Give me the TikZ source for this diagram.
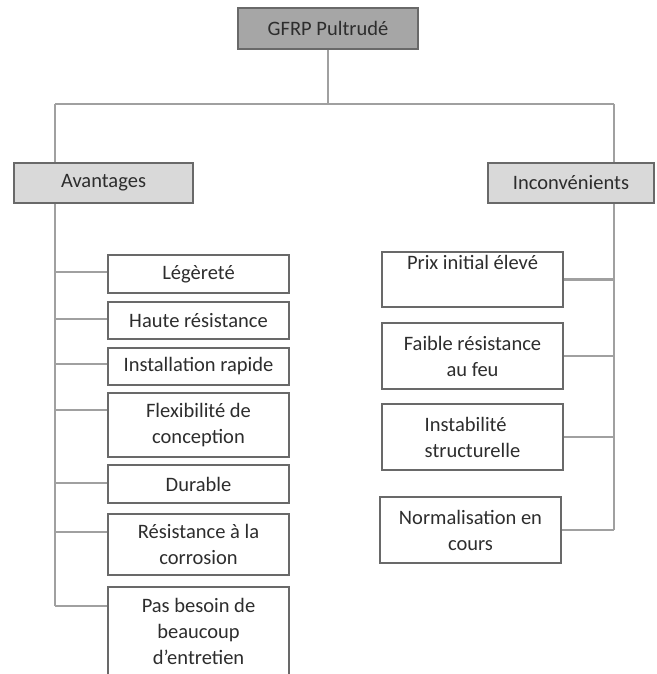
\documentclass[tikz,border=0pt]{standalone}
\usepackage{fontspec}
\setmainfont{Carlito}
\usetikzlibrary{positioning}
\definecolor{rootgray}{RGB}{166,166,166}
\definecolor{headgray}{RGB}{217,217,217}
\definecolor{edgegray}{RGB}{105,105,105}
\definecolor{linegray}{RGB}{160,160,160}
\definecolor{textgray}{RGB}{45,45,45}

\begin{document}
\begin{tikzpicture}[x=1pt, y=-1pt,
    box/.style={draw=edgegray, line width=1.7pt, fill=white, text=textgray, align=center,
        inner sep=0pt, minimum width=181pt, font=\fontsize{20.5}{26}\selectfont},
    link/.style={draw=linegray, line width=2.4pt}]
    \useasboundingbox (0,0) rectangle (656,674);

    % top level
    \node[box, fill=rootgray, minimum width=180pt, minimum height=41pt] (root) at (328,28.5) {GFRP Pultrudé};
    \node[box, fill=headgray, minimum width=179pt, minimum height=40pt] (av) at (103.5,183) {Avantages};
    \node[box, fill=headgray, minimum width=166pt, minimum height=40pt] (inc) at (571,183) {Inconvénients};
    \coordinate (lx) at (55,104);
    \coordinate (rx) at (614,104);

    % advantages
    \node[box, minimum height=38pt] (a1) at (198.5,274) {Légèreté};
    \node[box, minimum height=37pt] (a2) at (198.5,320.5) {Haute résistance};
    \node[box, minimum height=37pt] (a3) at (198.5,366.5) {Installation rapide};
    \node[box, minimum height=64pt] (a4) at (198.5,425) {Flexibilité de\\conception};
    \node[box, minimum height=38pt] (a5) at (198.5,484) {Durable};
    \node[box, minimum height=61pt] (a6) at (198.5,544.5) {Résistance à la\\corrosion};
    \node[box, minimum height=89pt] (a7) at (198.5,631.5) {Pas besoin de\\beaucoup\\d’entretien};

    % drawbacks
    \node[box, minimum height=55pt] (b1) at (472.5,279.5) {Prix initial élevé\\\strut};
    \node[box, minimum height=66pt] (b2) at (472.5,356) {Faible résistance\\au feu};
    \node[box, minimum height=66pt, align=left] (b3) at (472.5,437) {Instabilité\\structurelle};
    \node[box, minimum height=66pt] (b4) at (470.5,530) {Normalisation en\\cours};

    % tree lines
    \draw[link] (root.south) -- (root.south |- lx);
    \draw[link] (lx) -- (rx);
    \draw[link] (lx) -- (av.north -| lx);
    \draw[link] (av.south -| lx) -- (lx |- 0,606);
    \draw[link] (rx) -- (inc.north -| rx);
    \draw[link] (inc.south -| rx) -- (rx |- b4.east);
    \foreach \n/\y in {a1/272, a2/319, a3/364, a4/410, a5/483, a6/532, a7/606} {
        \draw[link] (\n.west |- 0,\y) -- (lx |- 0,\y);
    }
    \foreach \n in {b1, b2, b3, b4} {
        \draw[link] (\n.east) -- (rx |- \n.east);
    }
\end{tikzpicture}
\end{document}
